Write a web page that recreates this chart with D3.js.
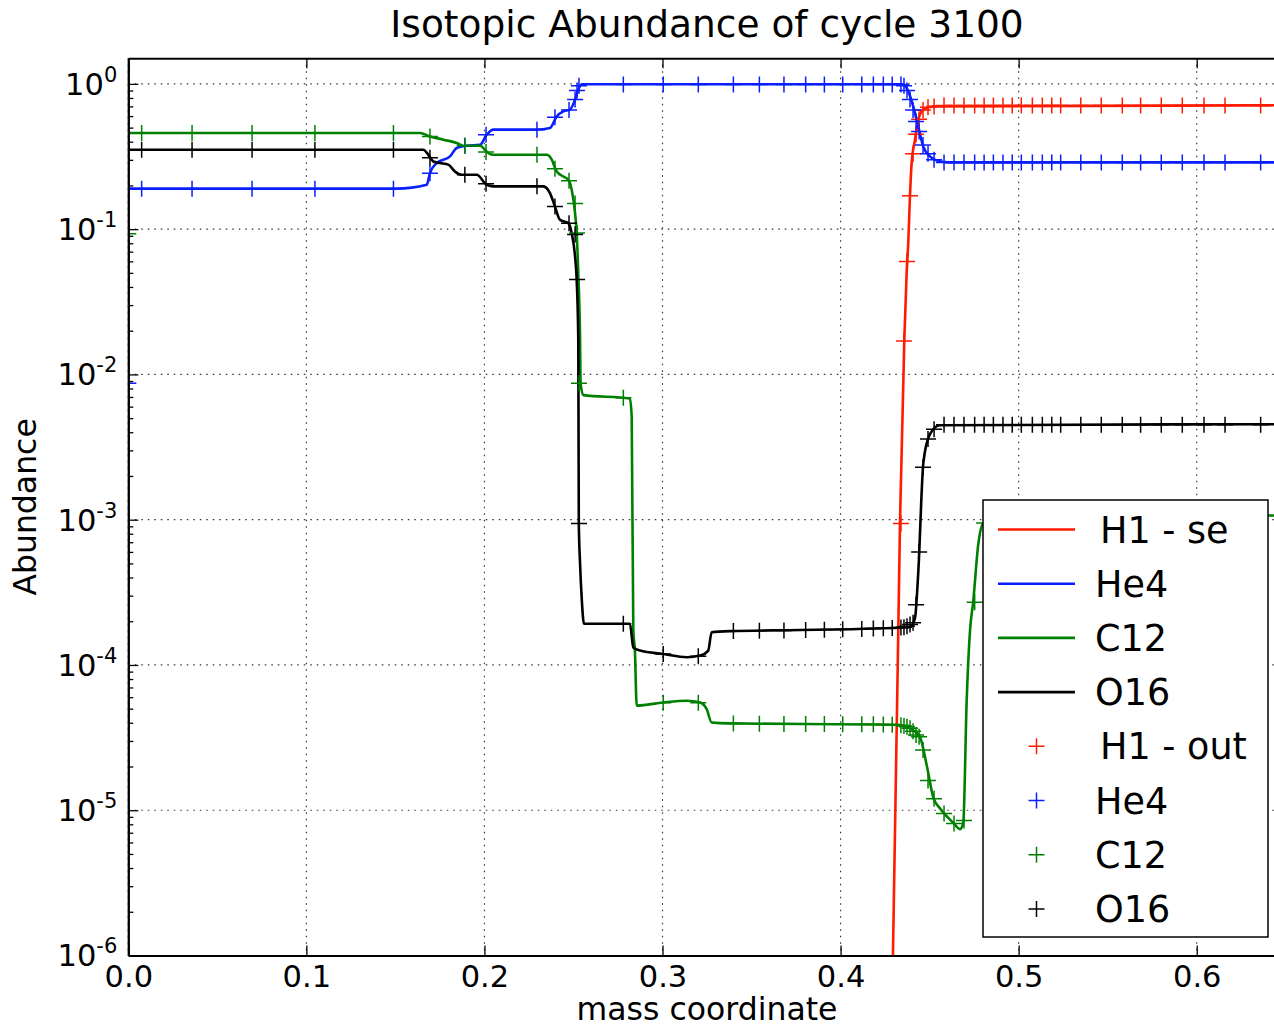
<!DOCTYPE html>
<html>
<head>
<meta charset="utf-8">
<script src="https://cdn.jsdelivr.net/npm/d3@7/dist/d3.min.js"></script>
<style>
	body { margin: 0; background: white; }
	#outer { width: 1274px; height: 1026px; }
	text { font-family: 'DejaVu Sans', sans-serif; fill: black; }
</style>
</head>
<body>
<div id="outer"></div>
<script>
////////// DATA //////////
// se lines: mass coordinate and abundance per isotope
const seMassH1 = [0.4294, 0.4321, 0.4334, 0.4358, 0.4371, 0.4380, 0.4390, 0.4399, 0.4418, 0.4436, 0.4465, 0.4521, 0.648];
const seH1 = [1e-6, 1e-4, 1e-3, 0.0173, 0.0497, 0.080, 0.173, 0.285, 0.413, 0.567, 0.665, 0.700, 0.712];

const seMassHe4 = [0, 0.1507, 0.1676, 0.1694, 0.1732, 0.1807, 0.1844, 0.1900, 0.1975, 0.2013, 0.2050, 0.2293, 0.2368, 0.2406,
	0.2443, 0.2480, 0.2509, 0.2527, 0.2546, 0.4343, 0.4371, 0.4408, 0.4436, 0.4464, 0.4502, 0.4540, 0.4615, 0.648];
const seHe4 = [0.190, 0.190, 0.202, 0.243, 0.285, 0.317, 0.362, 0.375, 0.381, 0.447, 0.484, 0.484, 0.497, 0.598,
	0.647, 0.665, 0.779, 0.914, 0.995, 0.995, 0.938, 0.701, 0.511, 0.371, 0.317, 0.297, 0.288, 0.288];

const seMassC12 = [0, 0.1638, 0.1694, 0.1769, 0.1844, 0.1881, 0.1975, 0.2022, 0.2050, 0.2350,
	0.2378, 0.2406, 0.2443, 0.2471, 0.2490, 0.2509, 0.2518, 0.2527, 0.2537, 0.2540,
	0.2555, 0.2817, 0.2827, 0.2836, 0.2845, 0.2855, 0.3004, 0.3136, 0.3211, 0.3248,
	0.3276, 0.3379, 0.4315, 0.4390, 0.4446, 0.4484, 0.4521, 0.4558, 0.4633, 0.4671,
	0.4689, 0.4708, 0.4727, 0.4745, 0.4773, 0.4801, 0.4895, 0.648];
const seC12 = [0.459, 0.459, 0.435, 0.413, 0.392, 0.375, 0.375, 0.334, 0.325, 0.325,
	0.301, 0.249, 0.2305, 0.219, 0.187, 0.129, 0.0938, 0.0497, 0.01725, 0.00867,
	0.0072, 0.00683, 0.0051, 1.725e-4, 1.256e-4, 5.25e-5, 5.52e-5, 5.67e-5, 5.52e-5, 4.97e-5,
	4.02e-5, 3.96e-5, 3.88e-5, 3.66e-5, 3.19e-5, 2.03e-5, 1.22e-5, 1.03e-5, 8.2e-6, 7.41e-6,
	8.2e-6, 5.6e-5, 1.73e-4, 2.73e-4, 6.73e-4, 9.46e-4, 1.04e-3, 1.07e-3];

const seMassO16 = [0, 0.1657, 0.1685, 0.1713, 0.1750, 0.1797, 0.1835, 0.1872, 0.1957, 0.2013,
	0.2050, 0.2330, 0.2368, 0.2396, 0.2424, 0.2471, 0.2490, 0.2509, 0.2518, 0.2527,
	0.2530, 0.2537, 0.2546, 0.2559, 0.2817, 0.2836, 0.2874, 0.3004, 0.3136, 0.3211,
	0.3257, 0.3276, 0.3379, 0.3772, 0.4390, 0.4418, 0.4436, 0.4465, 0.4502, 0.4558, 0.648];
const seO16 = [0.352, 0.352, 0.325, 0.292, 0.285, 0.278, 0.249, 0.237, 0.237, 0.202,
	0.197, 0.197, 0.177, 0.143, 0.116, 0.110, 0.0938, 0.0647, 0.0448, 0.01725,
	9.38e-4, 4.98e-4, 2.92e-4, 1.92e-4, 1.92e-4, 1.32e-4, 1.256e-4, 1.19e-4, 1.13e-4, 1.16e-4,
	1.256e-4, 1.68e-4, 1.71e-4, 1.74e-4, 1.82e-4, 2.11e-4, 4.28e-4, 2.47e-3, 3.88e-3, 4.47e-3, 4.54e-3];

// out markers: shared mass coordinates, one value per isotope (null = not shown)
const outMass = [0.0, 0.0075, 0.0358, 0.0695, 0.1048, 0.1489, 0.1694, 0.1890, 0.2009, 0.2295,
	0.2396, 0.2475, 0.2509, 0.2520, 0.2531, 0.2780, 0.3004, 0.3201, 0.3398, 0.3544,
	0.3682, 0.3804, 0.3909, 0.4012, 0.4119, 0.4184, 0.4240, 0.4290, 0.4339, 0.4356,
	0.4373, 0.4390, 0.4407, 0.4424, 0.4441, 0.4463, 0.4491, 0.4525, 0.4581, 0.4637,
	0.4693, 0.4753, 0.4806, 0.4858, 0.4912, 0.4964, 0.5015, 0.5077, 0.5133, 0.5186,
	0.5236, 0.5349, 0.5464, 0.5582, 0.5685, 0.5801, 0.5919, 0.6041, 0.6159, 0.6359];
const outH1 = [null, null, null, null, null, null, null, null, null, null,
	null, null, null, null, null, null, null, null, null, null,
	null, null, null, null, null, null, null, null, 9.4e-4, 0.017,
	0.06, 0.17, 0.33, 0.45, 0.57, 0.66, 0.69, 0.70, 0.71, 0.71,
	0.71, 0.71, 0.71, 0.71, 0.71, 0.71, 0.71, 0.71, 0.71, 0.71,
	0.71, 0.71, 0.71, 0.71, 0.71, 0.71, 0.71, 0.71, 0.71, 0.71];
const outHe4 = [0.0087, 0.19, 0.19, 0.19, 0.19, 0.19, 0.243, 0.375, 0.447, 0.484,
	0.59, 0.66, 0.78, 0.9, 0.97, 0.99, 0.99, 0.99, 0.99, 0.99,
	0.99, 0.99, 0.99, 0.99, 0.99, 0.99, 0.99, 0.99, 0.99, 0.97,
	0.9, 0.78, 0.66, 0.55, 0.47, 0.38, 0.33, 0.30, 0.288, 0.288,
	0.288, 0.288, 0.288, 0.288, 0.288, 0.288, 0.288, 0.288, 0.288, 0.288,
	0.288, 0.288, 0.288, 0.288, 0.288, 0.288, 0.288, 0.288, 0.288, 0.288];
const outC12 = [0.093, 0.459, 0.459, 0.459, 0.459, 0.459, 0.435, 0.375, 0.34, 0.325,
	0.26, 0.215, 0.15, 0.094, 0.0087, 0.0069, 5.5e-5, 5.5e-5, 3.95e-5, 3.94e-5,
	3.93e-5, 3.92e-5, 3.92e-5, 3.91e-5, 3.9e-5, 3.9e-5, 3.89e-5, 3.88e-5, 3.85e-5, 3.8e-5,
	3.75e-5, 3.66e-5, 3.5e-5, 3.3e-5, 3.2e-5, 2.6e-5, 1.6e-5, 1.2e-5, 9.5e-6, 8.1e-6,
	8.5e-6, 2.7e-4, 9.5e-4, 1.0e-3, 1.02e-3, 1.03e-3, 1.03e-3, 1.04e-3, 1.04e-3, 1.04e-3,
	1.05e-3, 1.05e-3, 1.05e-3, 1.06e-3, 1.06e-3, 1.06e-3, 1.06e-3, 1.07e-3, 1.07e-3, 1.07e-3];
const outO16 = [null, 0.352, 0.352, 0.352, 0.352, 0.352, 0.31, 0.237, 0.205, 0.197,
	0.143, 0.11, 0.092, 0.045, 9.4e-4, 1.92e-4, 1.19e-4, 1.15e-4, 1.71e-4, 1.72e-4,
	1.73e-4, 1.74e-4, 1.75e-4, 1.76e-4, 1.77e-4, 1.78e-4, 1.79e-4, 1.8e-4, 1.81e-4, 1.82e-4,
	1.85e-4, 1.9e-4, 1.95e-4, 2.6e-4, 6e-4, 2.3e-3, 3.6e-3, 4.2e-3, 4.5e-3, 4.5e-3,
	4.5e-3, 4.5e-3, 4.5e-3, 4.5e-3, 4.5e-3, 4.5e-3, 4.5e-3, 4.5e-3, 4.5e-3, 4.5e-3,
	4.5e-3, 4.5e-3, 4.5e-3, 4.5e-3, 4.5e-3, 4.5e-3, 4.5e-3, 4.5e-3, 4.5e-3, 4.5e-3];

// axis ticks and labels
const xTicks = [0, 0.1, 0.2, 0.3, 0.4, 0.5, 0.6];
const yExponents = [0, -1, -2, -3, -4, -5, -6];
const legendLineLabels = ['H1 - se', 'He4', 'C12', 'O16'];
const legendMarkLabels = ['H1 - out', 'He4', 'C12', 'O16'];
const isoColors = ['#ff1a00', '#0a1eff', '#008000', '#000000'];


function drawAbundancePlot () {
	const widget = {};

	////////// Hard Coded Defs //////////
	const width = 1274, height = 1026;
	const plot = {left: 128.3, top: 58.3, bottom: 955.5, pxPerUnit: 1780.7};
	const xDomain = [0, 0.65];
	const yDomain = [1e-6, 1.5];
	const tickFont = 30.5, supFont = 21, labelFont = 31.5, titleFont = 37.5, legendFont = 36.5;
	const plus = 'M-8,0H8M0,-8V8';
	const lineWidth = 2.6;

	const x = d3.scaleLinear().domain(xDomain)
		.range([plot.left, plot.left + xDomain[1] * plot.pxPerUnit]);
	const y = d3.scaleLog().domain(yDomain).range([plot.bottom, plot.top]);
	const plotRight = x(xDomain[1]);

	const decades = yExponents.map(e => Math.pow(10, e));
	const minors = [];
	for (let e = -6; e <= 0; e++) {
		for (let m = 2; m <= 9; m++) {
			const v = m * Math.pow(10, e);
			if (v <= yDomain[1]) minors.push(v);
		}
	}

	const seSeries = [
		d3.zip(seMassH1, seH1),
		d3.zip(seMassHe4, seHe4),
		d3.zip(seMassC12, seC12),
		d3.zip(seMassO16, seO16)
	];
	const outSeries = [outH1, outHe4, outC12, outO16]
		.map(vals => d3.zip(outMass, vals).filter(d => d[1] !== null));


	////////// Initialize //////////
	widget.outerDiv = d3.select('#outer').style('overflow', 'hidden');
	widget.svg = widget.outerDiv.append('svg')
		.attr('width', width)
		.attr('height', height)
		.style('background', 'white');

	const svg = widget.svg;

	svg.append('defs').append('clipPath').attr('id', 'plotClip')
		.append('rect')
		.attr('x', plot.left)
		.attr('y', plot.top)
		.attr('width', plotRight - plot.left)
		.attr('height', plot.bottom - plot.top);

	// ********************************************* GRID ******************************************************* //
	const grid = svg.append('g').attr('class', 'grid')
		.attr('stroke', '#333')
		.attr('stroke-width', 1.2)
		.attr('stroke-dasharray', '1.5,5');
	grid.selectAll('.vgrid').data(xTicks).join('line')
		.attr('x1', d => x(d)).attr('x2', d => x(d))
		.attr('y1', plot.top).attr('y2', plot.bottom);
	grid.selectAll('.hgrid').data(decades).join('line')
		.attr('x1', plot.left).attr('x2', plotRight)
		.attr('y1', d => y(d)).attr('y2', d => y(d));

	// ********************************************* LINES + MARKERS ******************************************************* //
	const linePath = d3.line()
		.x(d => x(d[0]))
		.y(d => y(d[1]))
		.curve(d3.curveMonotoneX);

	const dataGroup = svg.append('g').attr('clip-path', 'url(#plotClip)');

	seSeries.forEach((series, i) => {
		dataGroup.append('path')
			.datum(series)
			.attr('fill', 'none')
			.attr('stroke', isoColors[i])
			.attr('stroke-width', lineWidth)
			.attr('stroke-linejoin', 'round')
			.attr('d', linePath);
	});

	outSeries.forEach((series, i) => {
		dataGroup.append('g').selectAll('path').data(series).join('path')
			.attr('d', plus)
			.attr('transform', d => `translate(${x(d[0])},${y(d[1])})`)
			.attr('fill', 'none')
			.attr('stroke', isoColors[i])
			.attr('stroke-width', 1.5);
	});

	// ********************************************* AXES ******************************************************* //
	const styleAxis = g => {
		g.select('.domain').attr('stroke', 'black').attr('stroke-width', 2);
		g.selectAll('.tick line').attr('stroke', 'black').attr('stroke-width', 1.3);
		g.selectAll('text').style('font-size', tickFont + 'px').attr('fill', 'black')
			.style('font-family', "'DejaVu Sans', sans-serif");
	};

	svg.append('g')
		.attr('transform', `translate(0,${plot.bottom})`)
		.call(d3.axisBottom(x).tickValues(xTicks).tickFormat(d3.format('.1f'))
			.tickSizeInner(-10).tickSizeOuter(0).tickPadding(10))
		.call(styleAxis);

	svg.append('g')
		.attr('transform', `translate(0,${plot.top})`)
		.call(d3.axisTop(x).tickValues(xTicks).tickFormat('')
			.tickSizeInner(-10).tickSizeOuter(0))
		.call(styleAxis);

	const yAxisG = svg.append('g')
		.attr('transform', `translate(${plot.left},0)`)
		.call(d3.axisLeft(y).tickValues(decades).tickFormat('')
			.tickSizeInner(-10).tickSizeOuter(0).tickPadding(10))
		.call(styleAxis);

	yAxisG.selectAll('.tick').each(function (d) {
		const t = d3.select(this).append('text')
			.attr('x', -11)
			.attr('dy', '0.34em')
			.attr('text-anchor', 'end')
			.style('font-size', tickFont + 'px');
		t.append('tspan').text('10');
		t.append('tspan')
			.attr('dy', -13)
			.style('font-size', supFont + 'px')
			.text(Math.round(Math.log10(d)));
	});

	svg.append('g')
		.attr('transform', `translate(${plot.left},0)`)
		.call(d3.axisLeft(y).tickValues(minors).tickFormat('')
			.tickSizeInner(-5).tickSizeOuter(0))
		.call(styleAxis);

	svg.append('g')
		.attr('transform', `translate(${plotRight},0)`)
		.call(d3.axisRight(y).tickValues(decades).tickFormat('')
			.tickSizeInner(-10).tickSizeOuter(0))
		.call(styleAxis);

	// ********************************************* TITLES ******************************************************* //
	const midX = (plot.left + plotRight) / 2;
	svg.append('text')
		.attr('x', midX).attr('y', 37)
		.attr('text-anchor', 'middle')
		.style('font-size', titleFont + 'px')
		.text('Isotopic Abundance of cycle 3100');

	svg.append('text')
		.attr('x', midX).attr('y', 1020)
		.attr('text-anchor', 'middle')
		.style('font-size', labelFont + 'px')
		.text('mass coordinate');

	svg.append('text')
		.attr('transform', `translate(36,${(plot.top + plot.bottom) / 2}) rotate(-90)`)
		.attr('text-anchor', 'middle')
		.style('font-size', labelFont + 'px')
		.text('Abundance');

	// ********************************************* LEGEND ******************************************************* //
	const legend = svg.append('g').attr('class', 'legend');
	legend.append('rect')
		.attr('x', 983).attr('y', 500)
		.attr('width', 285).attr('height', 437)
		.attr('fill', 'white')
		.attr('stroke', 'black')
		.attr('stroke-width', 1.5);

	const rowY = i => 529.5 + i * 54.2;
	legendLineLabels.forEach((label, i) => {
		legend.append('line')
			.attr('x1', 998).attr('x2', 1075)
			.attr('y1', rowY(i)).attr('y2', rowY(i))
			.attr('stroke', isoColors[i])
			.attr('stroke-width', lineWidth);
		legend.append('text')
			.attr('x', i === 0 ? 1100 : 1095)
			.attr('y', rowY(i))
			.attr('dy', '0.36em')
			.style('font-size', legendFont + 'px')
			.text(label);
	});
	legendMarkLabels.forEach((label, j) => {
		const i = j + 4;
		legend.append('path')
			.attr('d', plus)
			.attr('transform', `translate(1036.5,${rowY(i)})`)
			.attr('fill', 'none')
			.attr('stroke', isoColors[j])
			.attr('stroke-width', 1.5);
		legend.append('text')
			.attr('x', i === 4 ? 1100 : 1095)
			.attr('y', rowY(i))
			.attr('dy', '0.36em')
			.style('font-size', legendFont + 'px')
			.text(label);
	});
}

drawAbundancePlot();
</script>
</body>
</html>
